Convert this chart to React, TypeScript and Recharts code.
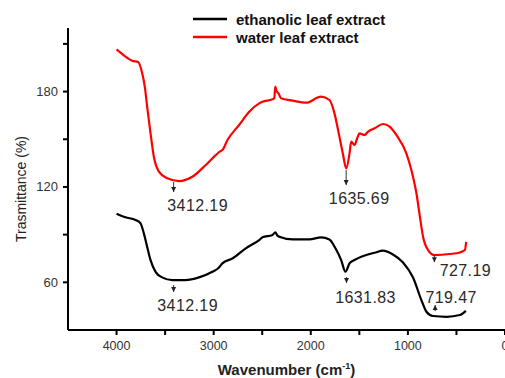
import React from 'react'
import { LineChart, Line, XAxis, YAxis, Legend, ReferenceDot } from 'recharts'

// water leaf extract (red trace)
const waterWavenumber = [
    4000, 3908, 3840, 3778, 3736, 3709, 3685, 3650, 3616, 3564, 3478, 3357, 3220, 3082, 2979, 2930,
    2910, 2858, 2738, 2634, 2531, 2497, 2394, 2375, 2366, 2350, 2332, 2307, 2187, 2049, 1894, 1808,
    1756, 1712, 1670, 1635, 1601, 1584, 1550, 1520, 1498, 1446, 1412, 1343, 1257, 1188, 1119, 1016,
    964, 912, 878, 844, 792, 723, 568, 465, 413, 400,
]
const waterTransmittance = [
    206.5, 202, 199.4, 198.6, 191.5, 183, 170.5, 153.7, 139, 129.6, 125.4, 123.7, 126.4, 133.8, 140, 142.5,
    143.2, 149.5, 159, 167.3, 172.6, 173.6, 175.1, 176, 183.1, 180, 178.9, 175.8, 174.3, 173, 176.8, 174.7,
    166.3, 153.7, 141.1, 131.7, 141.1, 148.5, 146.4, 151, 153.7, 152.7, 154.7, 156.9, 159.6, 157.9, 152.7, 141.1,
    130.6, 116, 102, 88.7, 80.3, 77.1, 77.8, 78.8, 80.3, 85.5,
]

// ethanolic leaf extract (black trace)
const ethanolWavenumber = [
    4000, 3908, 3805, 3753, 3719, 3685, 3650, 3598, 3530, 3427, 3289, 3151, 3013, 2950, 2910, 2807,
    2669, 2531, 2497, 2394, 2365, 2345, 2324, 2187, 2014, 1894, 1808, 1746, 1687, 1643, 1601, 1550,
    1480, 1429, 1343, 1257, 1154, 1050, 947, 861, 809, 740, 602, 465, 403,
]
const ethanolTransmittance = [
    103.2, 100.9, 99.2, 97.1, 90.8, 82.4, 74, 66.6, 63.1, 61.4, 61.4, 63.1, 66.6, 69, 71.9, 75,
    81.4, 86.6, 88.3, 89.8, 91.5, 89.5, 88.7, 87, 87, 88.3, 87, 81.4, 74, 66.7, 71.9, 74,
    76.1, 77.2, 78.6, 79.9, 77.5, 72.5, 63, 48.8, 41.5, 38.8, 38.3, 39.4, 42,
]

// marked absorption bands: water first, then ethanolic
const peakWavenumber = [3412.19, 1635.69, 727.19, 3412.19, 1631.83, 719.47]
const peakTransmittance = [123.1, 130.6, 77.1, 58.3, 63.3, 41.9]

const xTicks = [4000, 3500, 3000, 2500, 2000, 1500, 1000, 500, 0]
const xTickLabels = [4000, 3000, 2000, 1000, 0]
const yTicks = [60, 90, 120, 150, 180, 210]
const yTickLabels = [60, 120, 180]

const FONT = 'Arial, "Liberation Sans", sans-serif'

const waterData = waterWavenumber.map((w, i) => ({ wn: w, t: waterTransmittance[i] }))
const ethanolData = ethanolWavenumber.map((w, i) => ({ wn: w, t: ethanolTransmittance[i] }))

// arrow + label placement for each band marker
const peakStyle = [
    { dir: 'down', len: 10, dx: 24, dy: 29 },
    { dir: 'down', len: 15, dx: 13, dy: 34 },
    { dir: 'down', len: 7, dx: 31, dy: 21 },
    { dir: 'down', len: 7, dx: 14, dy: 26 },
    { dir: 'down', len: 6, dx: 19, dy: 26 },
    { dir: 'up', len: 6, dx: 16, dy: -8 },
]

const XTick = ({ x, y, payload }: any) => {
    if (!xTickLabels.includes(payload.value)) return null
    return (
        <text x={x} y={y} dy="0.71em" textAnchor="middle" fontSize={12.5} fill="#333" fontFamily={FONT}>
            {payload.value}
        </text>
    )
}

const YTick = ({ x, y, payload }: any) => {
    if (!yTickLabels.includes(payload.value)) return null
    return (
        <text x={x} y={y} dy={4.5} textAnchor="end" fontSize={13} fill="#333" fontFamily={FONT}>
            {payload.value}
        </text>
    )
}

const YTitle = ({ viewBox }: any) => {
    const cx = 26
    const cy = viewBox.y + viewBox.height / 2 + 10
    return (
        <text x={cx} y={cy} textAnchor="middle" fontSize={14} fill="#222" fontFamily={FONT}
            transform={`rotate(-90, ${cx}, ${cy})`}>
            Trasmittance (%)
        </text>
    )
}

const XTitle = ({ viewBox }: any) => {
    const cx = viewBox.x + viewBox.width / 2
    return (
        <text x={cx} y={375} textAnchor="middle" fontSize={15} fontWeight="bold" fill="#222" fontFamily={FONT}>
            Wavenumber (cm<tspan dy={-6} fontSize={9}>-1</tspan><tspan dy={6}>)</tspan>
        </text>
    )
}

const renderLegend = ({ payload }: any) => (
    <div style={{ fontFamily: FONT, fontWeight: 'bold', fontSize: 15, color: '#111' }}>
        {(payload || []).map((p: any) => (
            <div key={p.value} style={{ display: 'flex', alignItems: 'center', height: 18 }}>
                <svg width={34} height={4}>
                    <line x1={0} y1={2} x2={34} y2={2} stroke={p.color} strokeWidth={2.5} />
                </svg>
                <span style={{ marginLeft: 9, whiteSpace: 'nowrap' }}>{p.value}</span>
            </div>
        ))}
    </div>
)

const PeakMarker = (i: number) => (props: any) => {
    const { cx, cy } = props
    const s = peakStyle[i]
    const label = peakWavenumber[i].toFixed(2)
    const tip = s.dir === 'down' ? cy + s.len : cy - s.len
    const base = s.dir === 'down' ? tip - 5 : tip + 5
    return (
        <g>
            <line x1={cx} y1={cy} x2={cx} y2={tip} stroke="#333" strokeWidth={1} />
            <polygon points={`${cx - 2.5},${base} ${cx + 2.5},${base} ${cx},${tip}`} fill="#222" />
            <text x={cx + s.dx} y={cy + s.dy} textAnchor="middle" fontSize={16} letterSpacing={0.4}
                fill="#2a2a2a" fontFamily={FONT}>
                {label}
            </text>
        </g>
    )
}

export default function App() {
    return (
        <div style={{ position: 'absolute', left: 0, top: 0, width: 505, height: 378, overflow: 'hidden', background: '#fff' }}>
            <LineChart width={530} height={378} margin={{ top: 28, right: 25, bottom: 18, left: 0 }}>
                <XAxis
                    type="number"
                    dataKey="wn"
                    domain={[0, 4500]}
                    reversed
                    ticks={xTicks}
                    interval={0}
                    tick={<XTick />}
                    tickSize={5}
                    tickMargin={6}
                    height={30}
                    axisLine={{ stroke: '#000', strokeWidth: 2 }}
                    tickLine={{ stroke: '#000', strokeWidth: 2 }}
                    label={<XTitle />}
                />
                <YAxis
                    type="number"
                    domain={[30, 220]}
                    ticks={yTicks}
                    interval={0}
                    tick={<YTick />}
                    tickSize={5}
                    tickMargin={5}
                    width={68}
                    axisLine={{ stroke: '#000', strokeWidth: 2 }}
                    tickLine={{ stroke: '#000', strokeWidth: 2 }}
                    label={<YTitle />}
                />
                <Legend
                    layout="vertical"
                    align="center"
                    verticalAlign="middle"
                    content={renderLegend}
                    wrapperStyle={{ position: 'absolute', top: 10, left: 193, width: 'auto' }}
                />
                <Line
                    data={ethanolData}
                    dataKey="t"
                    name="ethanolic leaf extract"
                    type="monotone"
                    stroke="#000"
                    strokeWidth={2.2}
                    dot={false}
                    isAnimationActive={false}
                />
                <Line
                    data={waterData}
                    dataKey="t"
                    name="water leaf extract"
                    type="monotone"
                    stroke="#ff0000"
                    strokeWidth={2.2}
                    dot={false}
                    isAnimationActive={false}
                />
                {peakWavenumber.map((w, i) => (
                    <ReferenceDot key={i} x={w} y={peakTransmittance[i]} shape={PeakMarker(i)} />
                ))}
            </LineChart>
        </div>
    )
}
